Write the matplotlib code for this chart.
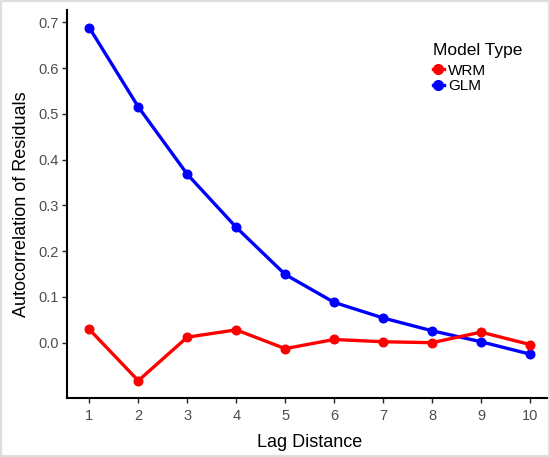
import matplotlib
matplotlib.use("Agg")
import matplotlib.pyplot as plt
from matplotlib.lines import Line2D
from matplotlib.patches import Rectangle

plt.rcParams["font.family"] = ["Liberation Sans", "DejaVu Sans"]

# data
lags = [1, 2, 3, 4, 5, 6, 7, 8, 9, 10]
glm = [0.688, 0.515, 0.368, 0.252, 0.149, 0.088, 0.054, 0.026, 0.002, -0.025]
wrm = [0.029, -0.083, 0.012, 0.028, -0.013, 0.007, 0.002, 0.000, 0.023, -0.004]
series_names = ["WRM", "GLM"]
series_colors = {"WRM": "#ff0000", "GLM": "#0000ff"}
yticks = [0.0, 0.1, 0.2, 0.3, 0.4, 0.5, 0.6, 0.7]

W, H = 550, 457
fig = plt.figure(figsize=(W / 100, H / 100), dpi=100)
ax = fig.add_axes([67.3 / W, 1 - 398.3 / H, 484.7 / W, 388.3 / H])

lw = 2.4
ax.plot(lags, glm, color=series_colors["GLM"], lw=lw, zorder=2)
ax.plot(lags, wrm, color=series_colors["WRM"], lw=lw, zorder=2)
ax.plot(lags, glm, "o", color=series_colors["GLM"], ms=6.2, zorder=3)
ax.plot(lags, wrm, "o", color=series_colors["WRM"], ms=6.2, zorder=3)

ax.set_xlim(0.55, 10.45)
ax.set_ylim(-0.1215, 0.7267)
ax.set_xticks(lags)
ax.set_yticks(yticks)
ax.set_yticklabels([f"{v:.1f}" for v in yticks])

for side in ["top", "right"]:
    ax.spines[side].set_visible(False)
for side in ["left", "bottom"]:
    ax.spines[side].set_linewidth(1.5)
    ax.spines[side].set_color("black")
ax.tick_params(axis="both", length=3.5, width=1.0, color="#222222",
               labelcolor="#4d4d4d", labelsize=10.5)
ax.tick_params(axis="x", pad=4)
ax.tick_params(axis="y", pad=2.5)

ax.set_xlabel("Lag Distance", fontsize=13, labelpad=8)
ax.set_ylabel("Autocorrelation of Residuals", fontsize=13, labelpad=6)

handles = [Line2D([0], [0], color=series_colors[n], lw=lw, marker="o", ms=7)
           for n in series_names]
leg = ax.legend(handles, series_names, title="Model Type", loc="upper left",
                bbox_to_anchor=(433 / W, 1 - 43 / H), bbox_transform=fig.transFigure,
                frameon=False, fontsize=11, title_fontsize=12.5,
                handlelength=0.7, handletextpad=0.3, labelspacing=0.12,
                borderpad=0, borderaxespad=0)
leg._legend_box.align = "left"
leg._legend_box.sep = 4.0  # a little more room under the title

# light grey frame round the picture
fig.patches.append(Rectangle((0, 0), 1, 1, transform=fig.transFigure,
                             fill=False, edgecolor="#dedede", lw=3, zorder=10))

fig.savefig("out.png", dpi=100, facecolor="white")
